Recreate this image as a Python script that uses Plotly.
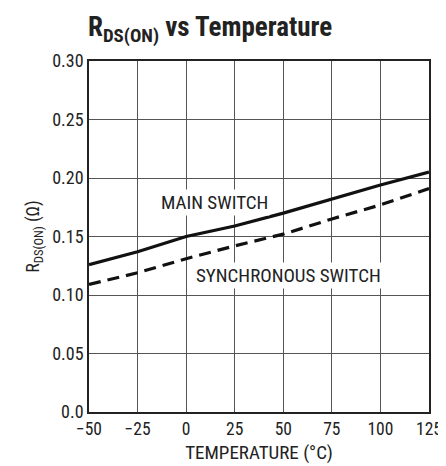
import plotly.graph_objects as go

temps = [-50, -25, 0, 25, 50, 75, 100, 125]
main_switch = [0.126, 0.137, 0.150, 0.159, 0.170, 0.182, 0.194, 0.205]
sync_switch = [0.109, 0.119, 0.131, 0.142, 0.152, 0.165, 0.177, 0.191]

x_ticks = [-50, -25, 0, 25, 50, 75, 100, 125]
x_ticktext = ["\u221250", "\u221225", "0", "25", "50", "75", "100", "125"]
y_ticks = [0.0, 0.05, 0.10, 0.15, 0.20, 0.25, 0.30]
y_ticktext = ["0.0", "0.05", "0.10", "0.15", "0.20", "0.25", "0.30"]

FONT = "Liberation Sans Narrow, Arial Narrow, Roboto Condensed, sans-serif"

fig = go.Figure()
fig.add_trace(go.Scatter(x=temps, y=main_switch, mode="lines",
                         line=dict(color="#111111", width=3.2), showlegend=False))
fig.add_trace(go.Scatter(x=temps, y=sync_switch, mode="lines",
                         line=dict(color="#111111", width=3.2, dash="12px,7px"), showlegend=False))

fig.add_annotation(x=14.7, y=0.179, text="MAIN SWITCH", showarrow=False,
                   font=dict(family=FONT, size=19, color="#222"), bgcolor="white")
fig.add_annotation(x=52.5, y=0.117, text="SYNCHRONOUS SWITCH", showarrow=False,
                   font=dict(family=FONT, size=19, color="#222"), bgcolor="white")

fig.update_layout(
    width=446, height=466,
    margin=dict(l=81, r=13, t=53, b=62),
    paper_bgcolor="white", plot_bgcolor="white",
    font=dict(family=FONT, size=18, color="#222"),
    title=dict(text="<b>R<sub>DS(ON)</sub> vs Temperature</b>", x=80/446, xanchor="left",
               y=1 - 19/466, yanchor="middle",
               font=dict(family=FONT, size=27, color="#222")),
    xaxis=dict(range=[-50, 125], tickvals=x_ticks, ticktext=x_ticktext,
               showgrid=True, gridcolor="#555", gridwidth=1,
               showline=True, linecolor="#222", linewidth=1.5, mirror=True,
               zeroline=False, ticks="", ticklen=0, ticklabeloverflow="allow",
               tickfont=dict(family=FONT, size=17.5, color="#222"),
               title=dict(text="TEMPERATURE (°C)", standoff=8,
                          font=dict(family=FONT, size=19, color="#222"))),
    yaxis=dict(range=[0, 0.30], tickvals=y_ticks, ticktext=y_ticktext,
               showgrid=True, gridcolor="#555", gridwidth=1,
               showline=True, linecolor="#222", linewidth=1.5, mirror=True,
               zeroline=False, ticks="", ticklen=0, ticklabeloverflow="allow",
               tickfont=dict(family=FONT, size=18, color="#222"),
               title=dict(text="R<sub>DS(ON)</sub> (Ω)", standoff=8,
                          font=dict(family=FONT, size=18, color="#222"))),
)

fig.write_html("out.html")
